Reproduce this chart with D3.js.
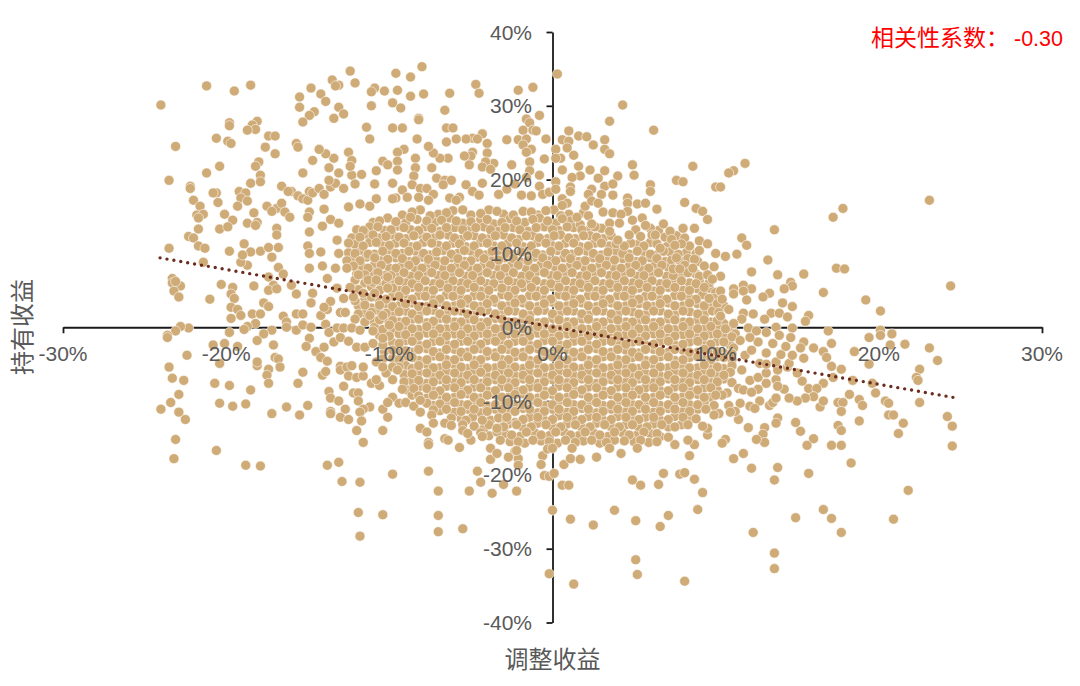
<!DOCTYPE html>
<html>
<head>
<meta charset="utf-8">
<script src="https://cdn.jsdelivr.net/npm/d3@7"></script>
<style>
html, body { margin: 0; padding: 0; background: #fff; }
svg { display: block; }
</style>
</head>
<body>
<div id="chart"></div>
<script>
const xTicks = [-30, -20, -10, 0, 10, 20, 30];
const yTicks = [-40, -30, -20, -10, 0, 10, 20, 30, 40];
const trendX = [-24.05, 24.55];
const trendY = [9.4, -9.5];

// [adjusted return %, holding return %]
const upperLeft = [[-24.0,30.1],[-21.2,32.7],[-19.5,32.0],[-18.5,32.8],[-23.1,24.5],[-23.5,19.9],[-19.8,27.7],[-19.8,27.3],[-18.1,27.9],[-18.4,27.4],[-18.2,26.8],[-18.7,26.7],[-20.6,25.6],[-19.9,25.2],[-19.7,24.9],[-17.4,25.9],[-17.0,25.9],[-17.6,24.4],[-17.0,23.5],[-20.4,21.8],[-21.2,20.9],[-18.0,22.4],[-18.2,21.8],[-17.9,20.6],[-18.5,19.5],[-17.9,19.7],[-22.2,19.1],[-22.2,18.8],[-20.6,18.2],[-20.8,18.2],[-19.2,18.4],[-18.8,18.2],[-19.1,17.5],[-18.7,17.1],[-22.0,17.2],[-21.6,16.4],[-20.5,16.9],[-19.3,16.4],[-20.1,15.3],[-21.8,15.2],[-21.4,15.3],[-21.7,14.8],[-18.3,15.5],[-19.6,14.5],[-18.7,14.1],[-18.1,14.2],[-18.2,13.8],[-20.4,13.3],[-19.9,13.6],[-21.7,13.3],[-22.3,12.3],[-22.0,12.1],[-21.7,11.0],[-21.3,10.7],[-23.5,10.7],[-18.9,11.3],[-19.8,10.3],[-17.9,10.3],[-17.4,10.8],[-16.8,10.8],[-18.5,10.2],[-19.0,9.8],[-17.2,9.5],[-17.5,16.4],[-16.9,16.1],[-17.2,15.7],[-16.6,16.8],[-16.4,15.6],[-16.1,14.9],[-16.9,13.4],[-16.9,12.5],[-16.6,19.1],[-16.0,18.4],[-16.2,18.4],[-15.6,17.8],[-15.3,17.4],[-15.0,17.2],[-14.9,18.4],[-14.7,18.2],[-14.3,18.8],[-14.0,18.0],[-13.6,19.0],[-13.3,19.5],[-12.8,18.8],[-13.7,19.9],[-13.7,21.6],[-13.1,20.9],[-12.3,20.6],[-11.7,20.7],[-12.1,19.4],[-13.4,22.9],[-13.9,23.5],[-14.3,24.1],[-14.7,22.6],[-15.3,20.9],[-15.7,24.9],[-15.6,24.4],[-15.5,31.2],[-15.5,29.8],[-14.8,32.4],[-14.2,31.6],[-13.9,30.6],[-13.5,33.5],[-13.1,32.8],[-13.3,32.7],[-12.4,34.7],[-12.1,33.1],[-13.1,29.8],[-12.8,28.9],[-13.4,28.3],[-14.6,29.2],[-14.9,28.7],[-15.3,27.8],[-11.4,27.1],[-11.2,25.5],[-12.5,23.7],[-12.3,22.6],[-12.4,21.8],[-10.9,32.4],[-11.1,31.9],[-10.3,32.0],[-9.6,34.4],[-9.5,32.1],[-11.1,30.0],[-9.8,30.4],[-9.3,29.7],[-9.8,27.0],[-9.2,27.0],[-8.7,33.9],[-9.1,24.1],[-9.5,23.7],[-9.5,22.5],[-9.5,21.3],[-10.4,22.5],[-10.1,22.0],[-10.8,21.2],[-10.9,19.4],[-9.8,19.5],[-9.2,18.6],[-9.6,17.5],[-9.8,17.4],[-8.9,17.6],[-10.8,17.4],[-11.2,16.4],[-12.5,16.3],[-11.8,16.7],[-14.0,16.0],[-14.9,15.6],[-15.0,14.9],[-13.6,14.6],[-14.1,13.7],[-14.9,12.9],[-13.1,14.1],[-13.2,11.8],[-15.0,11.0],[-14.9,10.0],[-14.2,10.2],[-13.1,10.0]];

const upperMid = [[-8.0,35.3],[-7.9,31.6],[-8.7,31.3],[-6.3,31.7],[-4.7,32.9],[-4.5,31.7],[-2.1,32.1],[-1.2,32.5],[0.3,34.3],[-6.6,29.4],[-8.2,28.3],[-8.2,28.1],[-6.5,27.0],[-6.1,27.0],[-0.8,28.7],[-1.6,28.2],[-1.4,27.7],[-1.8,26.7],[-1.2,26.7],[-1.0,26.6],[-4.3,26.2],[-4.9,25.6],[-5.3,25.5],[-4.6,25.5],[-8.3,25.5],[-5.9,25.5],[-6.5,25.1],[-4.0,24.9],[-2.8,25.4],[-2.1,25.4],[-1.6,25.5],[-0.4,25.5],[-1.8,24.7],[-1.3,24.1],[-1.6,23.7],[-4.0,23.6],[-4.9,23.7],[-5.0,23.2],[-5.4,23.2],[-6.4,22.9],[-6.9,22.9],[-7.3,23.6],[-7.6,24.5],[-8.4,22.9],[-0.5,22.8],[-1.4,22.4],[-3.6,22.2],[-4.1,22.4],[-4.3,21.7],[-3.8,21.4],[-5.1,22.0],[-2.5,22.0],[-8.4,21.6],[-7.4,21.6],[-8.5,20.5],[-7.1,20.2],[-6.6,19.9],[-6.2,19.9],[-6.7,19.3],[-0.8,20.6],[-1.4,21.2],[-1.6,20.3],[-5.3,19.3],[-4.3,19.5],[-8.6,19.3],[-8.1,18.8],[-7.7,18.8],[-7.3,18.0],[-4.9,18.4],[-4.5,17.9],[-6.3,17.5],[-5.7,17.6],[-5.9,17.2],[-8.2,17.6],[-7.6,17.2],[-0.8,19.1],[-3.3,18.0],[-2.8,18.7],[-2.3,19.4],[-1.9,17.9],[-1.3,17.8],[-0.6,18.0],[-0.2,18.3],[0.2,19.7],[0.2,18.7]];

const upperRight = [[4.3,30.1],[3.5,27.9],[6.2,26.7],[1.0,26.6],[0.6,25.4],[1.0,25.2],[1.6,25.9],[2.1,25.8],[2.5,24.7],[3.2,25.4],[3.2,24.1],[3.5,23.5],[0.2,24.1],[0.9,24.3],[1.3,23.3],[0.5,22.9],[0.2,22.9],[1.6,21.8],[0.6,21.3],[2.3,21.3],[3.2,21.2],[4.9,22.0],[5.0,20.6],[1.7,20.5],[1.2,20.3],[2.8,20.2],[4.0,20.5],[1.1,19.0],[1.1,18.4],[2.4,18.7],[3.2,19.1],[3.7,19.4],[2.2,18.0],[3.0,18.0],[3.7,17.9],[6.0,19.3],[6.0,18.4],[4.6,17.5],[5.2,16.7],[5.7,16.8],[6.4,16.0],[4.6,16.8],[6.8,14.0],[4.6,15.7],[2.0,16.4],[2.4,17.1],[2.8,16.8],[0.6,17.4],[0.9,16.8],[0.6,16.5],[1.5,14.9],[2.2,15.1],[3.1,15.6],[3.7,15.5],[4.2,15.3],[5.5,14.8],[4.9,14.5],[5.7,13.8],[4.1,14.1],[3.5,14.1],[2.4,14.0],[4.7,12.5],[5.4,12.3],[6.1,12.5],[6.3,12.5],[6.6,10.7],[4.4,11.0],[3.5,13.0],[4.0,11.8],[8.6,21.8],[11.8,22.2],[11.1,21.2],[10.8,20.9],[7.6,19.9],[8.0,19.7],[10.0,19.0],[10.3,19.0],[8.1,16.9],[8.8,16.1],[9.2,15.7],[9.5,14.6],[8.0,13.4],[8.7,13.4],[17.8,16.1],[17.2,14.9],[23.1,17.2],[13.6,13.2],[11.6,12.1],[11.9,11.1],[9.0,11.7],[9.5,11.3],[7.9,11.3],[7.5,11.1],[9.0,10.4],[10.0,10.0],[10.6,9.6],[11.3,9.9],[7.6,9.4],[8.7,9.2],[13.2,9.1]];

const rightSide = [[9.3,8.3],[8.6,8.0],[7.4,7.9],[7.8,7.9],[12.2,7.5],[13.8,7.1],[15.4,7.2],[17.4,8.0],[17.9,7.9],[24.4,5.6],[10.3,6.9],[9.5,7.1],[9.8,6.5],[14.6,6.1],[14.7,5.6],[14.2,5.2],[11.7,5.7],[12.2,5.2],[11.1,5.2],[11.1,4.5],[11.7,4.9],[10.3,4.9],[13.3,4.6],[12.9,4.1],[16.6,4.7],[19.2,3.7],[20.1,2.2],[11.9,3.7],[10.4,3.8],[9.6,3.9],[14.1,3.3],[14.7,2.8],[15.7,1.6],[15.5,0.8],[13.4,1.9],[13.9,1.9],[14.4,1.4],[13.0,1.1],[11.7,1.9],[12.3,1.8],[11.6,1.1],[10.3,1.5],[11.1,0.5],[13.7,0],[14.7,-0.1],[12.0,-0.1],[16.9,-0.5],[20.1,-0.4],[20.8,-0.9],[19.4,-1.4],[20.1,-1.1],[17.1,-2.2],[21.6,-2.3],[20.7,-2.4],[23.1,-2.8],[23.6,-4.5],[18.5,-3.3],[15.4,-2.0],[16.0,-2.8],[16.6,-3.3],[16.8,-4.1],[19.4,-5.0],[17.1,-5.3],[17.7,-5.7],[22.5,-5.7],[22.3,-6.8],[22.4,-7.2],[19.6,-7.6],[18.4,-7.2],[17.2,-6.8],[16.6,-7.6],[15.7,-8.3],[16.2,-8.3],[19.8,-8.9],[18.2,-9.1],[20.4,-10.0],[20.6,-10.3],[22.5,-10.2],[18.8,-9.8],[19.0,-10.6],[17.5,-10.2],[17.8,-10.2],[17.7,-11.4],[20.6,-11.9],[20.9,-11.9],[24.2,-12.1],[24.5,-13.4],[21.5,-13.0],[21.2,-14.4],[18.8,-12.7],[24.5,-16.1],[17.5,-13.3],[17.7,-14.0],[16.0,-15.1],[15.6,-16.0],[17.1,-16.0],[17.7,-16.0],[14.9,-12.9],[15.2,-14.1],[16.4,-10.8],[16.0,-9.4],[16.6,-10.0],[15.5,-9.6],[15.0,-10.0],[14.5,-9.6],[14.2,-8.4],[13.8,-12.3],[13.7,-13.0],[13.0,-13.6],[12.9,-14.5],[13.0,-15.6],[12.5,-15.2],[12.0,-13.6],[11.4,-12.5],[10.6,-15.2],[10.4,-15.7],[11.7,-17.1],[11.1,-17.8],[8.7,-15.9],[8.4,-17.4],[8.3,-15.3],[9.5,-14.6],[9.5,-13.7],[9.2,-13.4],[7.5,-15.9],[7.1,-14.9],[10.2,-11.7],[9.9,-11.9],[12.7,-10.0],[13.3,-10.6],[13.5,-10.2],[13.7,-9.6],[12.1,-10.7],[11.5,-10.3],[10.8,-10.6],[12.4,-11.0],[11.2,-11.4],[10.9,-11.5],[12.6,-8.4],[11.4,-8.3],[12.1,-7.2],[11.7,-8.5],[12.2,-8.8],[13.1,-7.6],[13.7,-7.1],[13.8,-8.0],[12.6,-6.8],[11.6,-5.8],[13.1,-6.2],[13.8,-5.8],[14.4,-5.4],[15.3,-7.3],[15.0,-6.2],[12.7,-4.9],[13.1,-5.0],[13.7,-4.7],[14.5,-4.9],[13.1,-3.5],[14.0,-3.7],[14.7,-3.8],[15.4,-4.2],[14.3,-2.6],[15.2,-2.8],[13.5,-2.2],[12.6,-2.0],[13.9,-1.1],[14.6,-1.4],[13.1,-0.7],[12.5,-0.5],[12.1,-1.4],[11.8,-3.8],[12.2,-3.1],[11.5,-1.8]];

const bottomRight = [[2.7,-17.6],[3.5,-16.4],[4.2,-17.1],[5.2,-16.4],[4.9,-20.7],[5.4,-21.4],[6.5,-21.3],[6.8,-19.8],[7.8,-19.9],[8.1,-19.7],[8.7,-20.6],[9.2,-22.4],[8.9,-24.7],[3.8,-24.8],[5.1,-26.2],[7.1,-25.5],[6.6,-27.0],[2.5,-26.8],[5.1,-31.5],[5.2,-33.5],[8.1,-34.4],[12.2,-19.1],[13.8,-19.0],[13.6,-20.7],[18.3,-18.4],[15.7,-19.8],[21.8,-22.1],[16.6,-24.7],[17.1,-25.9],[14.9,-25.8],[20.9,-26.0],[17.7,-27.8],[12.3,-27.8],[13.6,-30.6],[13.6,-32.7]];

const bottomLeft = [[-13.8,-18.7],[-13.1,-18.3],[-12.9,-20.9],[-11.8,-21.0],[-9.8,-19.9],[-7.6,-19.5],[-7.0,-22.2],[-11.9,-25.1],[-10.4,-25.4],[-7.0,-25.5],[-5.5,-27.3],[-7.0,-27.7],[-11.8,-28.3],[-4.6,-19.5],[-4.4,-21.0],[-5.1,-22.2],[-3.7,-22.5],[-3.0,-21.3],[-2.2,-22.2],[-3.8,-17.9],[-3.4,-17.1],[-2.7,-17.6],[-2.1,-17.8],[-2.1,-18.7],[-2.2,-16.7],[-0.6,-17.4],[-0.7,-18.6],[-0.3,-16.5],[0.0,-16.4],[-0.5,-20.1],[-0.2,-20.2],[0.1,-19.8],[0.7,-18.6],[1.1,-17.8],[1.7,-17.9],[1.2,-16.4],[0.6,-21.4],[1.0,-21.4],[0.0,-24.8],[1.1,-26.0],[-0.2,-33.4],[1.3,-34.8],[-5.7,-16.3],[-7.6,-15.9],[-11.6,-15.6]];

const lowerLeft = [[-23.3,6.6],[-23.3,6.0],[-22.8,5.6],[-23.2,4.9],[-22.9,4.1],[-23.1,6.2],[-21.0,3.8],[-20.3,5.8],[-19.6,5.4],[-18.3,5.6],[-19.7,4.5],[-19.5,3.9],[-17.7,3.3],[-17.4,2.8],[-19.7,2.7],[-19.3,2.4],[-19.1,1.6],[-18.4,1.8],[-17.9,1.8],[-19.7,1.2],[-21.4,8.8],[-18.7,8.4],[-19.1,8.8],[-16.8,8.1],[-16.5,7.2],[-17.4,6.8],[-17.1,5.7],[-17.4,5.0],[-16.9,5.2],[-16.0,5.7],[-15.7,4.5],[-14.7,4.6],[-14.8,3.3],[-16.5,1.5],[-15.7,1.8],[-15.3,1.8],[-14.2,1.6],[-13.8,2.4],[-13.6,3.5],[-14.0,2.7],[-16.3,0.7],[-18.2,0.5],[-18.7,0.1],[-18.9,-0.3],[-19.8,-0.7],[-22.3,-0.1],[-22.8,0.1],[-23.1,-0.5],[-23.6,-1.1],[-23.6,-1.4],[-17.2,-0.4],[-17.7,-0.9],[-18.1,-1.8],[-16.3,0],[-15.7,-0.4],[-15.3,0.3],[-14.8,0],[-13.9,0.4],[-13.7,-0.7],[-14.9,-1.5],[-13.4,-2.0],[-13.0,-1.4],[-12.5,-1.9],[-15.1,-2.6],[-14.5,-3.3],[-14.0,-2.7],[-14.2,-4.1],[-13.8,-4.6],[-17.1,-2.4],[-17.0,-4.1],[-16.8,-4.3],[-16.7,-5.4],[-18.1,-5.2],[-18.1,-4.7],[-17.4,-5.7],[-17.5,-6.5],[-17.4,-7.6],[-15.3,-6.1],[-15.6,-7.6],[-20.8,-2.4],[-20.1,-2.2],[-19.3,-2.6],[-20.4,-4.9],[-22.4,-3.8],[-23.5,-5.4],[-23.3,-6.9],[-22.6,-7.2],[-20.7,-7.6],[-19.8,-7.9],[-18.5,-8.5],[-22.9,-9.1],[-23.4,-10.2],[-24.0,-11.1],[-22.9,-11.5],[-22.5,-12.5],[-20.4,-10.3],[-19.6,-10.7],[-18.8,-10.4],[-16.3,-10.8],[-17.2,-11.7],[-15.0,-10.6],[-15.5,-11.9],[-23.1,-15.2],[-20.6,-16.7],[-23.2,-17.8],[-18.8,-18.7],[-17.9,-18.8],[-14.1,-6.5],[-13.9,-6.0],[-13.0,-5.3],[-13.0,-5.8],[-12.6,-5.4],[-12.3,-5.2],[-12.5,-6.6],[-12.0,-6.8],[-11.6,-6.6],[-11.6,-5.4],[-12.8,-8.0],[-13.7,-8.7],[-13.6,-9.6],[-13.1,-10.0],[-12.2,-8.9],[-11.9,-8.9],[-11.9,-10.0],[-11.2,-10.8],[-11.6,-11.1],[-12.7,-11.1],[-13.6,-11.4],[-13.6,-11.7],[-13.0,-12.2],[-12.5,-12.5],[-11.8,-11.5],[-11.7,-12.7],[-12.0,-14.0],[-10.4,-14.0],[-10.4,-11.1],[-10.1,-12.2],[-11.1,-7.6],[-10.6,-7.9],[-10.8,-7.1],[-9.2,-8.4],[-9.8,-9.5],[-10.1,-10.2],[-9.4,-10.3],[-9.0,-10.2],[-9.8,-7.1],[-10.2,-6.2],[-10.8,-4.7],[-10.4,-5.4],[-9.8,-5.4],[-9.5,-5.8],[-8.1,-13.7],[-7.7,-14.2],[-7.6,-15.6],[-6.6,-15.1],[-6.4,-15.3],[-5.0,-15.3],[-4.3,-14.8],[-3.8,-16.4],[-2.3,-16.8],[-8.5,-10.7],[-8.1,-9.9],[-8.1,-11.5],[-7.4,-11.9],[-6.6,-13.0],[-7.3,-13.0],[-6.2,-13.3],[-5.5,-14.0],[-5.2,-14.4],[-4.3,-12.6],[-3.4,-13.7],[-2.8,-12.2],[-14.9,8.0],[-13.8,6.6],[-13.2,5.3],[-12.8,3.9],[-12.2,4.1],[-13.0,2.0],[-12.7,2.0],[-12.1,1.1],[-13.2,-0.1],[-12.8,-0.1],[-12.3,-0.1],[-11.8,-0.4],[-11.0,-0.5],[-12.0,-2.7],[-11.5,-2.7],[-11.0,-2.2],[-10.4,-1.5],[-10.0,0.3],[-11.2,1.6],[-10.4,1.6],[-11.9,7.1],[-11.3,6.4],[-10.8,6.4],[-10.1,6.8],[-12.6,8.0],[-13.3,8.0],[-14.1,8.3],[-11.6,4.6],[-10.9,4.6],[-10.1,5.3],[-12.4,5.4]];

// dense middle of the cloud, estimated band by band
const core = [
[-9.2,15.2],[-8.1,15.9],[-7.0,15.3],[-6.1,15.8],[-5.0,15.2],[-3.9,15.9],[-3.0,15.3],[-1.8,15.7],[-0.9,15.2],[0.1,15.9],[1.0,15.3],
[-11.0,14.2],[-10.1,14.8],[-9.0,14.1],[-8.3,14.6],[-7.2,14.2],[-6.3,14.8],[-5.5,14.1],[-4.4,14.6],[-3.6,14.0],[-2.6,14.7],[-1.7,14.2],[-0.8,14.8],[0.2,14.1],[1.1,14.4],
[-12.0,13.2],[-11.2,13.6],[-10.3,13.1],[-9.5,13.7],[-8.7,13.2],[-7.8,13.6],[-6.9,13.0],[-6.0,13.5],[-5.1,13.1],[-4.2,13.6],[-3.3,13.0],[-2.4,13.5],[-1.5,13.0],[-0.5,13.6],[0.4,13.1],[1.3,13.5],[2.2,13.1],[3.0,13.4],[6.5,13.1],
[-12.3,12.1],[-11.4,12.6],[-10.6,12.1],[-9.8,12.5],[-9.0,12.0],[-8.1,12.6],[-7.3,12.1],[-6.4,12.5],[-5.6,11.9],[-4.8,12.4],[-3.9,12.0],[-3.0,12.5],[-2.1,11.9],[-1.2,12.4],[-0.3,12.0],[0.5,12.5],[1.4,12.0],[2.3,12.4],[3.1,12.0],[6.9,12.2],[7.6,12.4],
[-12.1,11.2],[-11.2,11.5],[-10.4,11.0],[-9.6,11.4],[-8.7,10.9],[-7.9,11.5],[-7.0,11.1],[-6.1,11.4],[-5.3,10.9],[-4.4,11.5],[-3.6,11.0],[-2.7,11.4],[-1.8,10.9],[-0.9,11.5],[0.0,11.0],[0.8,11.4],[1.7,10.9],[2.6,11.4],[3.5,11.0],[5.2,11.2],[6.0,11.5],[7.0,10.9],
[-12.5,10.1],[-11.7,10.4],[-10.9,9.9],[-10.0,10.5],[-9.2,10.0],[-8.4,10.3],[-7.5,9.8],[-6.7,10.4],[-5.8,10.0],[-5.0,10.3],[-4.1,9.8],[-3.3,10.4],[-2.4,9.9],[-1.5,10.3],[-0.6,9.8],[0.3,10.4],[1.2,9.9],[2.1,10.3],[3.0,9.8],[3.9,10.3],[4.7,9.9],[5.6,10.2],[6.4,9.8],[7.2,10.2],[8.2,10.1],
[-12.2,9.2],[-11.4,9.5],[-10.5,9.0],[-9.6,9.4],[-8.8,8.9],[-8.0,9.5],[-7.1,9.0],[-6.2,9.4],[-5.4,8.9],[-4.6,9.5],[-3.7,9.0],[-2.9,9.4],[-2.0,8.9],[-1.1,9.5],[-0.2,9.0],[0.7,9.4],[1.6,8.9],[2.5,9.4],[3.4,9.0],[4.3,9.3],[5.1,8.9],[6.0,9.4],[6.9,8.9],[7.8,9.0],
[-11.7,8.2],[-10.9,8.5],[-10.0,8.0],[-9.2,8.4],[-8.4,7.9],[-7.6,8.5],[-6.7,8.0],[-5.8,8.4],[-5.0,7.9],[-4.2,8.5],[-3.3,8.0],[-2.5,8.4],[-1.6,7.9],[-0.7,8.5],[0.2,8.0],[1.1,8.4],[2.0,7.9],[2.9,8.4],[3.8,8.0],[4.7,8.3],[5.5,7.9],[6.3,8.4],[7.1,8.1],[8.9,8.9],
[-12.0,7.2],[-11.1,7.5],[-10.3,7.0],[-9.5,7.4],[-8.7,6.9],[-7.8,7.5],[-7.0,7.0],[-6.1,7.4],[-5.3,6.9],[-4.5,7.5],[-3.6,7.0],[-2.8,7.4],[-1.9,6.9],[-1.0,7.5],[-0.1,7.0],[0.8,7.4],[1.7,6.9],[2.6,7.4],[3.5,7.0],[4.4,7.3],[5.2,6.9],[6.1,7.4],[7.0,6.9],[7.9,7.2],[8.8,7.2],
[-11.5,6.0],[-10.6,5.7],[-9.8,6.4],[-9.0,6.0],[-8.2,6.4],[-7.3,5.9],[-6.5,6.5],[-5.6,6.0],[-4.8,6.4],[-4.0,5.9],[-3.1,6.5],[-2.3,6.0],[-1.4,6.4],[-0.5,5.9],[0.4,6.5],[1.3,6.0],[2.2,6.4],[3.1,5.9],[4.0,6.4],[4.9,6.0],[5.7,6.3],[6.6,5.9],[7.5,6.4],[8.4,6.0],[9.0,6.3],
[-11.9,5.1],[-11.1,5.5],[-9.4,5.0],[-8.6,5.4],[-7.7,4.9],[-6.9,5.5],[-6.0,5.0],[-5.2,5.4],[-4.4,4.9],[-3.5,5.5],[-2.7,5.0],[-1.8,5.4],[-0.9,4.9],[0.0,5.5],[0.9,5.0],[1.8,5.4],[2.7,4.9],[3.6,5.4],[4.5,5.0],[5.3,5.3],[6.2,4.9],[7.1,5.4],[8.0,5.0],[8.9,5.2],[9.6,5.3],
[-11.5,3.9],[-10.6,3.6],[-9.8,4.2],[-9.0,3.9],[-8.2,4.3],[-7.3,3.8],[-6.5,4.4],[-5.6,3.9],[-4.8,4.3],[-4.0,3.8],[-3.1,4.4],[-2.3,3.9],[-1.4,4.3],[-0.5,3.8],[0.4,4.4],[1.3,3.9],[2.2,4.3],[3.1,3.8],[4.0,4.3],[4.9,3.9],[5.7,4.2],[6.6,3.8],[7.5,4.3],[8.4,3.9],[9.2,4.4],
[-11.9,2.9],[-11.1,2.6],[-10.2,3.2],[-9.4,2.9],[-8.6,3.3],[-7.7,2.8],[-6.9,3.4],[-6.0,2.9],[-5.2,3.3],[-4.4,2.8],[-3.5,3.4],[-2.7,2.9],[-1.8,3.3],[-0.9,2.8],[0.0,3.4],[0.9,2.9],[1.8,3.3],[2.7,2.8],[3.6,3.3],[4.5,2.9],[5.3,3.2],[6.2,2.8],[7.1,3.3],[8.0,2.9],[8.9,3.2],[9.8,2.9],[10.5,2.9],
[-11.5,1.9],[-10.7,2.3],[-9.8,1.8],[-9.0,2.2],[-8.2,1.7],[-7.3,2.3],[-6.5,1.8],[-5.6,2.2],[-4.8,1.7],[-4.0,2.3],[-3.1,1.8],[-2.3,2.2],[-1.4,1.7],[-0.5,2.3],[0.4,1.8],[1.3,2.2],[2.2,1.7],[3.1,2.2],[4.0,1.8],[4.9,2.1],[5.7,1.7],[6.6,2.2],[7.5,1.7],[8.4,2.1],[9.3,1.8],[9.8,2.2],[10.8,2.4],
[-11.0,0.9],[-10.2,1.2],[-9.4,0.7],[-8.6,1.1],[-7.7,0.6],[-6.9,1.2],[-6.0,0.7],[-5.2,1.1],[-4.4,0.6],[-3.5,1.2],[-2.7,0.7],[-1.8,1.1],[-0.9,0.6],[0.0,1.2],[0.9,0.7],[1.8,1.1],[2.7,0.6],[3.6,1.1],[4.5,0.7],[5.3,1.0],[6.2,0.6],[7.1,1.1],[8.0,0.7],[8.9,1.0],[9.7,0.7],[10.5,0.5],
[-10.9,0.0],[-9.8,-0.2],[-9.0,0.2],[-8.2,-0.3],[-7.3,0.3],[-6.5,-0.2],[-5.6,0.2],[-4.8,-0.3],[-4.0,0.3],[-3.1,-0.2],[-2.3,0.2],[-1.4,-0.3],[-0.5,0.3],[0.4,-0.2],[1.3,0.2],[2.2,-0.3],[3.1,0.2],[4.0,-0.2],[4.9,0.1],[5.7,-0.3],[6.6,0.2],[7.5,-0.3],[8.4,0.1],[9.3,-0.2],[10.1,0.1],[11.0,-0.4],
[-10.6,-1.1],[-9.4,-0.9],[-8.6,-1.4],[-7.7,-0.8],[-6.9,-1.3],[-6.0,-0.9],[-5.2,-1.4],[-4.4,-0.8],[-3.5,-1.3],[-2.7,-0.9],[-1.8,-1.4],[-0.9,-0.8],[0.0,-1.3],[0.9,-0.9],[1.8,-1.4],[2.7,-0.9],[3.6,-1.3],[4.5,-1.0],[5.3,-1.4],[6.2,-0.9],[7.1,-1.4],[8.0,-1.0],[8.9,-1.3],[9.7,-0.9],[10.5,-1.3],[11.2,-0.9],
[-9.8,-2.1],[-9.0,-1.8],[-8.2,-2.4],[-7.3,-1.9],[-6.5,-2.3],[-5.6,-1.9],[-4.8,-2.4],[-4.0,-1.8],[-3.1,-2.3],[-2.3,-1.9],[-1.4,-2.4],[-0.5,-1.8],[0.4,-2.3],[1.3,-1.9],[2.2,-2.4],[3.1,-1.9],[4.0,-2.3],[4.9,-2.0],[5.7,-2.4],[6.6,-1.9],[7.5,-2.4],[8.4,-2.0],[9.3,-2.3],[10.1,-1.9],[10.9,-2.4],[11.1,-2.8],
[-10.3,-3.3],[-9.4,-3.0],[-8.6,-3.4],[-7.7,-2.9],[-6.9,-3.5],[-6.0,-3.0],[-5.2,-3.4],[-4.4,-2.9],[-3.5,-3.5],[-2.7,-3.0],[-1.8,-3.4],[-0.9,-2.9],[0.0,-3.5],[0.9,-3.0],[1.8,-3.4],[2.7,-2.9],[3.6,-3.4],[4.5,-3.1],[5.3,-3.5],[6.2,-3.0],[7.1,-3.4],[8.0,-3.1],[8.9,-3.4],[9.7,-3.0],[10.5,-3.5],
[-9.8,-4.2],[-9.0,-4.0],[-8.2,-4.5],[-7.3,-3.9],[-6.5,-4.4],[-5.6,-4.0],[-4.8,-4.5],[-4.0,-3.9],[-3.1,-4.4],[-2.3,-4.0],[-1.4,-4.5],[-0.5,-3.9],[0.4,-4.4],[1.3,-4.0],[2.2,-4.5],[3.1,-4.0],[4.0,-4.4],[4.9,-4.1],[5.7,-4.5],[6.6,-4.0],[7.5,-4.5],[8.4,-4.1],[9.3,-4.4],[10.1,-4.0],[11.0,-4.4],
[-9.0,-5.2],[-8.6,-5.6],[-7.7,-5.0],[-6.9,-5.5],[-6.0,-5.1],[-5.2,-5.6],[-4.4,-5.0],[-3.5,-5.5],[-2.7,-5.1],[-1.8,-5.6],[-0.9,-5.0],[0.0,-5.5],[0.9,-5.1],[1.8,-5.6],[2.7,-5.0],[3.6,-5.5],[4.5,-5.2],[5.3,-5.6],[6.2,-5.1],[7.1,-5.5],[8.0,-5.2],[8.9,-5.5],[9.7,-5.1],[10.5,-5.6],[11.0,-5.2],
[-9.1,-6.4],[-8.2,-6.1],[-7.3,-6.6],[-6.5,-6.0],[-5.6,-6.5],[-4.8,-6.1],[-4.0,-6.6],[-3.1,-6.0],[-2.3,-6.5],[-1.4,-6.1],[-0.5,-6.6],[0.4,-6.0],[1.3,-6.5],[2.2,-6.1],[3.1,-6.6],[4.0,-6.1],[4.9,-6.5],[5.7,-6.2],[6.6,-6.6],[7.5,-6.1],[8.4,-6.5],[9.3,-6.2],[10.1,-6.5],[10.9,-6.1],
[-8.6,-7.3],[-7.7,-7.6],[-6.9,-7.1],[-6.0,-7.5],[-5.2,-7.0],[-4.4,-7.6],[-3.5,-7.1],[-2.7,-7.5],[-1.8,-7.0],[-0.9,-7.6],[0.0,-7.1],[0.9,-7.5],[1.8,-7.0],[2.7,-7.6],[3.6,-7.1],[4.5,-7.4],[5.3,-7.0],[6.2,-7.5],[7.1,-7.0],[8.0,-7.4],[8.9,-7.1],[9.7,-7.5],[10.5,-7.0],[11.0,-7.5],
[-8.9,-8.5],[-8.2,-8.1],[-7.3,-8.6],[-6.5,-8.0],[-5.6,-8.5],[-4.8,-8.1],[-4.0,-8.6],[-3.1,-8.0],[-2.3,-8.5],[-1.4,-8.1],[-0.5,-8.6],[0.4,-8.0],[1.3,-8.5],[2.2,-8.1],[3.1,-8.6],[4.0,-8.1],[4.9,-8.5],[5.7,-8.2],[6.6,-8.6],[7.5,-8.1],[8.4,-8.5],[9.3,-8.2],[10.1,-8.5],[10.7,-8.9],
[-8.6,-9.2],[-7.7,-9.6],[-6.9,-9.1],[-6.0,-9.5],[-5.2,-9.0],[-4.4,-9.6],[-3.5,-9.1],[-2.7,-9.5],[-1.8,-9.0],[-0.9,-9.6],[0.0,-9.1],[0.9,-9.5],[1.8,-9.0],[2.7,-9.6],[3.6,-9.1],[4.5,-9.4],[5.3,-9.0],[6.2,-9.5],[7.1,-9.0],[8.0,-9.4],[8.9,-9.1],[9.7,-9.5],[10.4,-9.2],
[-7.3,-10.6],[-6.5,-10.1],[-5.6,-10.5],[-4.8,-10.1],[-4.0,-10.6],[-3.1,-10.0],[-2.3,-10.5],[-1.4,-10.1],[-0.5,-10.6],[0.4,-10.0],[1.3,-10.5],[2.2,-10.1],[3.1,-10.6],[4.0,-10.1],[4.9,-10.5],[5.7,-10.2],[6.6,-10.6],[7.5,-10.1],[8.4,-10.5],[9.3,-10.2],[9.9,-10.6],
[-6.9,-11.3],[-6.0,-11.5],[-5.2,-11.1],[-4.4,-11.6],[-3.5,-11.1],[-2.7,-11.5],[-1.8,-11.0],[-0.9,-11.6],[0.0,-11.1],[0.9,-11.5],[1.8,-11.0],[2.7,-11.6],[3.6,-11.1],[4.5,-11.4],[5.3,-11.0],[6.2,-11.5],[7.1,-11.0],[8.0,-11.4],[8.9,-11.1],
[-5.6,-12.4],[-4.9,-12.2],[-3.8,-12.6],[-2.3,-12.9],[-1.4,-12.2],[-0.5,-12.6],[0.4,-12.0],[1.3,-12.5],[2.2,-12.1],[3.1,-12.6],[4.0,-12.1],[4.9,-12.5],[5.7,-12.2],[6.6,-12.6],[7.5,-12.1],[8.4,-12.5],
[-4.8,-13.4],[-2.7,-13.1],[-1.8,-13.6],[-0.9,-13.0],[0.0,-13.5],[0.9,-13.1],[1.8,-13.6],[2.7,-13.0],[3.6,-13.5],[4.5,-13.2],[5.3,-13.6],[6.2,-13.1],[7.1,-13.5],[7.9,-13.2],
[-3.9,-14.7],[-2.9,-14.4],[-2.0,-14.8],[-1.1,-14.3],[-0.2,-14.7],[0.7,-14.2],[1.6,-14.7],[2.5,-14.3],[3.4,-14.8],[4.3,-14.3],[5.1,-14.7],[6.0,-14.4],[6.6,-14.8],
[-2.6,-15.5],[-1.7,-15.7],[-0.7,-15.4],[0.3,-15.7],[1.9,-15.4],[2.9,-15.7],[3.8,-15.3],[5.0,-15.5],[5.9,-15.6]
];

// second pass over the same area, the gaps between the dots above
const coreFill = [
[-8.6,15.6],[-7.5,15.1],[-6.5,15.5],[-5.5,15.9],[-4.4,15.4],[-3.4,15.7],[-2.4,15.2],[-1.3,15.6],[-0.4,15.8],[0.5,15.1],[1.9,15.5],
[-10.6,14.4],[-9.6,14.3],[-8.7,14.9],[-7.7,14.4],[-6.8,14.5],[-5.9,14.4],[-5.0,14.3],[-4.0,14.6],[-3.1,14.2],[-2.2,14.4],[-1.2,14.6],[-0.3,14.4],[0.6,14.7],[1.7,13.9],
[-11.6,13.1],[-10.7,13.6],[-9.9,13.2],[-9.1,13.5],[-8.2,13.1],[-7.4,13.4],[-6.5,13.5],[-5.5,13.2],[-4.7,13.5],[-3.8,13.2],[-2.9,13.5],[-2.0,13.2],[-1.0,13.5],[0.0,13.2],[0.9,13.6],[1.8,13.2],[2.6,13.6],[5.1,13.2],[6.0,13.4],[7.2,13.0],
[-11.8,12.2],[-11.0,12.5],[-10.2,12.3],[-9.4,12.2],[-8.5,12.4],[-7.7,12.2],[-6.9,12.5],[-6.0,12.1],[-5.2,12.4],[-4.3,12.1],[-3.5,12.4],[-2.5,12.1],[-1.6,12.4],[-0.8,12.1],[0.1,12.4],[1.0,12.1],[1.9,12.4],[2.7,12.2],[3.6,12.4],[7.3,11.9],[8.1,12.1],
[-12.5,11.4],[-11.6,11.0],[-10.8,11.5],[-10.0,11.1],[-9.1,11.4],[-8.3,11.0],[-7.4,11.4],[-6.5,11.0],[-5.7,11.3],[-4.8,11.0],[-4.0,11.4],[-3.1,11.0],[-2.2,11.4],[-1.3,11.0],[-0.4,11.4],[0.4,11.0],[1.3,11.4],[2.2,11.0],[3.0,11.4],[3.9,11.3],[4.8,11.4],[5.6,11.0],[6.4,11.3],[8.4,11.0],
[-12.1,10.0],[-11.3,9.9],[-10.4,10.3],[-9.6,10.0],[-8.8,10.3],[-7.9,10.0],[-7.1,10.2],[-6.2,9.9],[-5.4,10.4],[-4.5,10.0],[-3.7,10.3],[-2.8,10.0],[-1.9,10.2],[-1.0,10.0],[-0.1,10.3],[0.8,10.0],[1.6,10.3],[2.5,10.0],[3.4,10.2],[4.3,10.0],[5.2,10.3],[6.0,9.9],[6.8,10.3],[7.7,9.9],[8.8,10.0],
[-12.6,9.0],[-11.8,9.0],[-10.9,9.4],[-10.1,9.2],[-9.2,9.3],[-8.4,9.0],[-7.6,9.2],[-6.6,9.0],[-5.8,9.3],[-5.0,9.0],[-4.2,9.3],[-3.3,9.1],[-2.4,9.3],[-1.5,9.0],[-0.6,9.4],[0.2,9.0],[1.1,9.3],[2.0,9.0],[2.9,9.3],[3.8,9.1],[4.7,9.4],[5.5,9.0],[6.4,9.3],[7.3,9.1],[8.3,9.3],
[-12.2,8.3],[-11.3,8.0],[-10.5,8.4],[-9.6,8.0],[-8.8,8.4],[-8.0,8.0],[-7.2,8.4],[-6.2,8.0],[-5.4,8.4],[-4.6,8.0],[-3.8,8.4],[-2.9,8.0],[-2.1,8.4],[-1.1,8.0],[-0.3,8.4],[0.6,8.0],[1.5,8.4],[2.4,8.0],[3.3,8.4],[4.2,8.0],[5.1,8.4],[5.9,8.0],[6.7,8.4],[8.1,8.4],[9.9,8.2],
[-11.5,7.1],[-10.7,7.4],[-9.9,7.0],[-9.1,7.4],[-8.2,7.0],[-7.4,7.4],[-6.6,7.0],[-5.7,7.4],[-4.9,7.0],[-4.0,7.4],[-3.2,7.0],[-2.4,7.4],[-1.4,7.0],[-0.5,7.4],[0.3,7.0],[1.2,7.4],[2.1,7.0],[3.0,7.4],[3.9,7.0],[4.8,7.4],[5.6,7.0],[6.5,7.4],[7.4,7.0],[8.3,7.4],[9.0,6.9],
[-12.1,6.4],[-11.0,6.1],[-10.2,5.9],[-9.4,6.3],[-8.6,5.9],[-7.8,6.3],[-6.9,5.9],[-6.1,6.3],[-5.2,5.9],[-4.4,6.3],[-3.6,5.9],[-2.7,6.3],[-1.9,5.9],[-1.0,6.3],[-0.1,5.9],[0.8,6.3],[1.7,5.9],[2.6,6.3],[3.5,5.9],[4.4,6.3],[5.3,5.9],[6.1,6.3],[7.0,5.9],[7.9,6.3],[8.8,5.9],[9.6,6.0],
[-10.6,5.0],[-9.8,5.3],[-9.0,5.0],[-8.2,5.4],[-7.3,5.0],[-6.4,5.3],[-5.6,5.0],[-4.8,5.4],[-3.9,5.0],[-3.1,5.3],[-2.3,5.0],[-1.3,5.4],[-0.5,5.0],[0.4,5.4],[1.3,5.0],[2.2,5.4],[3.1,5.0],[4.0,5.4],[4.9,5.0],[5.8,5.4],[6.6,5.0],[7.5,5.4],[8.4,5.0],[9.3,5.4],[10.0,4.7],
[-12.1,3.6],[-11.1,4.1],[-10.2,3.8],[-9.4,4.2],[-8.6,3.8],[-7.8,4.2],[-6.9,3.8],[-6.1,4.2],[-5.2,3.8],[-4.4,4.2],[-3.6,3.8],[-2.7,4.2],[-1.9,3.8],[-1.0,4.2],[-0.1,3.8],[0.8,4.2],[1.7,3.8],[2.6,4.2],[3.5,3.8],[4.4,4.2],[5.3,3.8],[6.1,4.2],[7.0,3.8],[7.9,4.2],[8.8,3.8],[9.9,3.9],
[-11.5,3.0],[-10.6,3.0],[-9.8,2.8],[-9.0,3.2],[-8.2,2.8],[-7.3,3.2],[-6.5,2.9],[-5.6,3.2],[-4.8,2.9],[-4.0,3.2],[-3.1,2.9],[-2.3,3.3],[-1.4,2.9],[-0.5,3.2],[0.4,2.9],[1.3,3.2],[2.2,2.9],[3.1,3.2],[4.0,2.9],[4.9,3.3],[5.8,2.9],[6.6,3.2],[7.5,2.9],[8.4,3.3],[9.3,2.9],[10.1,3.2],
[-11.9,1.8],[-11.1,2.0],[-10.2,1.9],[-9.4,2.1],[-8.6,1.8],[-7.7,2.2],[-6.9,1.8],[-6.0,2.2],[-5.2,1.8],[-4.4,2.2],[-3.5,1.8],[-2.7,2.2],[-1.8,1.8],[-0.9,2.2],[0.0,1.8],[0.9,2.2],[1.8,1.8],[2.7,2.2],[3.6,1.8],[4.5,2.2],[5.3,1.8],[6.2,2.2],[7.1,1.8],[8.0,2.2],[8.9,1.8],[10.2,2.0],
[-11.5,0.7],[-10.6,1.0],[-9.8,0.9],[-9.0,0.8],[-8.2,1.1],[-7.3,0.8],[-6.5,1.1],[-5.6,0.7],[-4.8,1.0],[-4.0,0.7],[-3.1,1.1],[-2.3,0.7],[-1.4,1.0],[-0.5,0.7],[0.4,1.0],[1.3,0.7],[2.2,1.1],[3.1,0.7],[4.0,1.0],[4.9,0.7],[5.7,1.0],[6.6,0.7],[7.5,1.0],[8.4,0.7],[9.3,1.0],[10.1,0.9],
[-10.4,-0.3],[-9.4,0.1],[-8.6,-0.2],[-7.7,0.1],[-6.9,-0.2],[-6.0,0.1],[-5.2,-0.2],[-4.4,0.1],[-3.5,-0.2],[-2.7,0.1],[-1.8,-0.2],[-0.9,0.1],[0.0,-0.2],[0.9,0.1],[1.8,-0.2],[2.7,0.1],[3.6,-0.2],[4.5,0.1],[5.3,-0.2],[6.2,0.1],[7.1,-0.2],[8.0,0.1],[8.9,-0.2],[9.7,0.1],[10.6,-0.2],
[-10.0,-1.2],[-9.0,-1.0],[-8.2,-1.2],[-7.3,-0.9],[-6.5,-1.2],[-5.6,-1.0],[-4.8,-1.2],[-4.0,-0.9],[-3.1,-1.2],[-2.3,-0.9],[-1.4,-1.2],[-0.5,-0.9],[0.4,-1.2],[1.3,-0.9],[2.2,-1.2],[3.1,-0.9],[4.0,-1.2],[4.9,-0.9],[5.7,-1.2],[6.6,-0.9],[7.5,-1.2],[8.4,-0.9],[9.3,-1.2],[10.1,-0.9],[11.0,-1.3],
[-10.4,-2.4],[-9.4,-2.2],[-8.6,-1.9],[-7.7,-2.3],[-6.9,-1.9],[-6.0,-2.3],[-5.2,-1.9],[-4.4,-2.3],[-3.5,-1.9],[-2.7,-2.3],[-1.8,-1.9],[-0.9,-2.3],[0.0,-1.9],[0.9,-2.3],[1.8,-1.9],[2.7,-2.3],[3.6,-1.9],[4.5,-2.3],[5.3,-1.9],[6.2,-2.3],[7.1,-1.9],[8.0,-2.3],[8.9,-1.9],[9.7,-2.3],[10.5,-2.0],
[-9.8,-3.1],[-9.0,-3.2],[-8.2,-3.0],[-7.3,-3.3],[-6.5,-3.0],[-5.6,-3.4],[-4.8,-3.0],[-4.0,-3.3],[-3.1,-3.0],[-2.3,-3.4],[-1.4,-3.0],[-0.5,-3.3],[0.4,-3.0],[1.3,-3.4],[2.2,-3.0],[3.1,-3.3],[4.0,-3.0],[4.9,-3.4],[5.7,-3.0],[6.6,-3.3],[7.5,-3.0],[8.4,-3.4],[9.3,-3.0],[10.1,-3.3],[11.0,-3.6],
[-10.4,-4.3],[-9.4,-4.4],[-8.6,-4.1],[-7.7,-4.4],[-6.9,-4.0],[-6.0,-4.4],[-5.2,-4.0],[-4.4,-4.4],[-3.5,-4.0],[-2.7,-4.4],[-1.8,-4.0],[-0.9,-4.4],[0.0,-4.0],[0.9,-4.4],[1.8,-4.0],[2.7,-4.4],[3.6,-4.0],[4.5,-4.4],[5.3,-4.0],[6.2,-4.4],[7.1,-4.0],[8.0,-4.4],[8.9,-4.0],[9.7,-4.4],[10.5,-4.1],
[-9.4,-5.4],[-8.2,-5.2],[-7.3,-5.5],[-6.5,-5.1],[-5.6,-5.4],[-4.8,-5.1],[-4.0,-5.5],[-3.1,-5.1],[-2.3,-5.4],[-1.4,-5.1],[-0.5,-5.5],[0.4,-5.1],[1.3,-5.4],[2.2,-5.1],[3.1,-5.5],[4.0,-5.1],[4.9,-5.5],[5.7,-5.1],[6.6,-5.4],[7.5,-5.1],[8.4,-5.5],[9.3,-5.1],[10.1,-5.4],
[-8.6,-6.3],[-7.7,-6.2],[-6.9,-6.5],[-6.0,-6.2],[-5.2,-6.5],[-4.4,-6.1],[-3.5,-6.5],[-2.7,-6.2],[-1.8,-6.5],[-0.9,-6.2],[0.0,-6.5],[0.9,-6.2],[1.8,-6.5],[2.7,-6.2],[3.6,-6.5],[4.5,-6.2],[5.3,-6.5],[6.2,-6.2],[7.1,-6.5],[8.0,-6.2],[8.9,-6.5],[9.7,-6.2],[10.5,-6.5],
[-9.1,-7.4],[-8.2,-7.2],[-7.3,-7.4],[-6.5,-7.1],[-5.6,-7.5],[-4.8,-7.1],[-4.0,-7.4],[-3.1,-7.1],[-2.3,-7.5],[-1.4,-7.1],[-0.5,-7.4],[0.4,-7.1],[1.3,-7.5],[2.2,-7.1],[3.1,-7.4],[4.0,-7.1],[4.9,-7.5],[5.7,-7.1],[6.6,-7.4],[7.5,-7.1],[8.4,-7.5],[9.3,-7.1],[10.1,-7.4],
[-8.5,-8.3],[-7.7,-8.3],[-6.9,-8.6],[-6.0,-8.2],[-5.2,-8.5],[-4.4,-8.2],[-3.5,-8.6],[-2.7,-8.2],[-1.8,-8.5],[-0.9,-8.2],[0.0,-8.6],[0.9,-8.2],[1.8,-8.5],[2.7,-8.2],[3.6,-8.6],[4.5,-8.2],[5.3,-8.5],[6.2,-8.2],[7.1,-8.6],[8.0,-8.2],[8.9,-8.5],[9.7,-8.2],
[-8.2,-9.3],[-7.3,-9.2],[-6.5,-9.5],[-5.6,-9.1],[-4.8,-9.5],[-4.0,-9.2],[-3.1,-9.5],[-2.3,-9.1],[-1.4,-9.5],[-0.5,-9.2],[0.4,-9.5],[1.3,-9.1],[2.2,-9.5],[3.1,-9.2],[4.0,-9.5],[4.9,-9.2],[5.7,-9.5],[6.6,-9.2],[7.5,-9.5],[8.4,-9.2],[9.3,-9.5],[10.0,-9.2],
[-7.7,-10.3],[-6.9,-10.4],[-6.0,-10.2],[-5.2,-10.5],[-4.4,-10.2],[-3.5,-10.5],[-2.7,-10.2],[-1.8,-10.5],[-0.9,-10.2],[0.0,-10.5],[0.9,-10.2],[1.8,-10.5],[2.7,-10.2],[3.6,-10.5],[4.5,-10.2],[5.3,-10.5],[6.2,-10.2],[7.1,-10.5],[8.0,-10.2],[8.9,-10.5],
[-7.3,-11.2],[-6.5,-11.1],[-5.6,-11.4],[-4.8,-11.1],[-4.0,-11.4],[-3.1,-11.1],[-2.3,-11.4],[-1.4,-11.1],[-0.5,-11.4],[0.4,-11.1],[1.3,-11.4],[2.2,-11.1],[3.1,-11.4],[4.0,-11.1],[4.9,-11.4],[5.7,-11.1],[6.6,-11.4],[7.5,-11.1],[8.4,-11.4],[9.4,-11.1],
[-6.2,-12.3],[-5.3,-12.6],[-3.3,-12.3],[-2.8,-12.6],[-1.8,-12.5],[-0.9,-12.2],[0.0,-12.5],[0.9,-12.2],[1.8,-12.5],[2.7,-12.2],[3.6,-12.5],[4.5,-12.2],[5.3,-12.5],[6.2,-12.2],[7.1,-12.5],[8.0,-12.2],[8.8,-12.4],
[-5.5,-13.2],[-4.2,-13.7],[-3.9,-13.2],[-3.0,-13.5],[-2.2,-13.2],[-1.3,-13.5],[-0.4,-13.2],[0.5,-13.5],[1.4,-13.2],[2.3,-13.5],[3.2,-13.2],[4.1,-13.5],[4.9,-13.2],[5.8,-13.5],[6.7,-13.2],[7.5,-13.5],[8.3,-13.2],
[-4.4,-14.3],[-3.4,-14.2],[-2.5,-14.6],[-1.6,-14.2],[-0.7,-14.6],[0.2,-14.2],[1.1,-14.6],[2.0,-14.2],[2.9,-14.6],[3.8,-14.2],[4.7,-14.6],[5.6,-14.2],[6.4,-14.4],
[-3.2,-15.3],[-2.1,-15.5],[-1.2,-15.3],[-0.2,-15.5],[0.8,-15.3],[1.4,-15.6],[2.4,-15.3],[3.3,-15.6],[4.4,-15.4],[5.4,-15.3],[6.4,-15.5]
];

const points = [].concat(core, coreFill, lowerLeft, upperLeft, upperMid, upperRight, rightSide, bottomLeft, bottomRight);

const width = 1080;
const height = 686;

const x = d3.scaleLinear().domain([-30, 30]).range([63, 1042]);
const y = d3.scaleLinear().domain([-40, 40]).range([622.5, 32]);

const svg = d3.select("#chart").append("svg")
    .attr("width", width)
    .attr("height", height);

const pct = d => d + "%";

// Axes cross at zero, under the dots
const xAxis = svg.append("g")
    .attr("transform", `translate(0,${y(0)})`)
    .call(d3.axisBottom(x).tickValues(xTicks).tickSize(6).tickSizeOuter(0).tickFormat(""));

const yAxis = svg.append("g")
    .attr("transform", `translate(${x(0)},0)`)
    .call(d3.axisLeft(y).tickValues(yTicks).tickSize(6).tickSizeOuter(0).tickFormat(""));

[xAxis, yAxis].forEach(a => {
    a.selectAll("path, line").attr("stroke", "#1a1a1a").attr("stroke-width", 1.8);
    a.selectAll("text").remove();
});

svg.append("g")
    .selectAll("circle")
    .data(points)
    .join("circle")
    .attr("cx", d => x(d[0]))
    .attr("cy", d => y(d[1]))
    .attr("r", 5)
    .attr("fill", "#cfab78")
    .attr("stroke", "#fff")
    .attr("stroke-opacity", 0.8)
    .attr("stroke-width", 0.7);

// Trend line
svg.append("path")
    .datum(trendX.map((v, i) => [v, trendY[i]]))
    .attr("d", d3.line().x(d => x(d[0])).y(d => y(d[1])))
    .attr("fill", "none")
    .attr("stroke", "#6b2c1e")
    .attr("stroke-width", 3.4)
    .attr("stroke-linecap", "round")
    .attr("stroke-dasharray", "0 7");

// Tick labels sit over the dots
const labelFont = "'Liberation Sans', Arial, sans-serif";
const cjkFont = "'Noto Sans CJK SC', sans-serif";

svg.append("g")
    .selectAll("text")
    .data(xTicks)
    .join("text")
    .attr("x", d => x(d))
    .attr("y", 361)
    .attr("text-anchor", "middle")
    .attr("font-family", labelFont)
    .attr("font-size", 21)
    .attr("fill", "#595959")
    .text(pct);

svg.append("g")
    .selectAll("text")
    .data(yTicks)
    .join("text")
    .attr("x", 532)
    .attr("y", d => y(d))
    .attr("dy", "0.36em")
    .attr("text-anchor", "end")
    .attr("font-family", labelFont)
    .attr("font-size", 21)
    .attr("fill", "#595959")
    .text(pct);

svg.append("text")
    .attr("x", 552.5)
    .attr("y", 668)
    .attr("text-anchor", "middle")
    .attr("font-family", cjkFont)
    .attr("font-size", 24)
    .attr("fill", "#595959")
    .text("调整收益");

svg.append("text")
    .attr("transform", "translate(31,327) rotate(-90)")
    .attr("text-anchor", "middle")
    .attr("font-family", cjkFont)
    .attr("font-size", 24)
    .attr("fill", "#595959")
    .text("持有收益");

const note = svg.append("text")
    .attr("x", 871)
    .attr("y", 46)
    .attr("font-size", 23)
    .attr("fill", "#ff0000");
note.append("tspan").attr("font-family", cjkFont).text("相关性系数：");
note.append("tspan").attr("font-family", labelFont).attr("font-size", 21.5).attr("dx", 5).text("-0.30");
</script>
</body>
</html>
